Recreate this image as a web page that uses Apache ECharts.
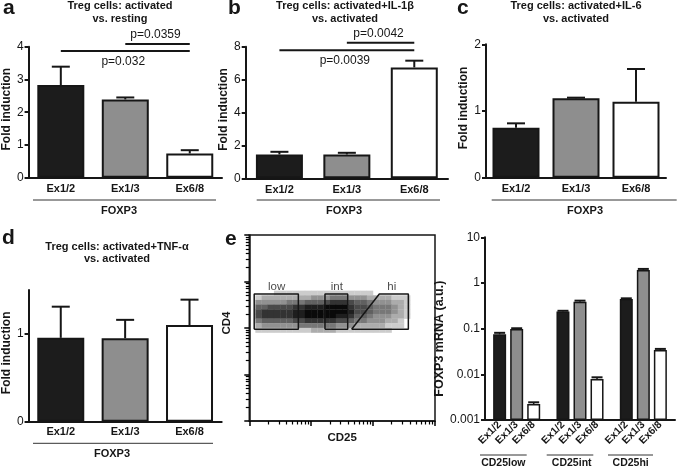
<!DOCTYPE html>
<html><head><meta charset="utf-8">
<script src="https://cdn.jsdelivr.net/npm/echarts@6/dist/echarts.min.js"></script>
<style>html,body{margin:0;padding:0;background:#fff}#c{width:685px;height:467px}</style>
</head><body><div id="c"></div>
<script>
// ---------- data ----------
const categories = ['Ex1/2', 'Ex1/3', 'Ex6/8'];
// panel a: activated vs resting
const aMean = [2.83, 2.39, 0.74];
const aErr  = [0.56, 0.06, 0.10];
const aSig  = [[1, 2, 4.08, 'p=0.0359', 'above'], [0, 2, 3.87, 'p=0.032', 'below']];
// panel b: activated+IL-1β vs activated
const bMean = [1.45, 1.45, 6.74];
const bErr  = [0.16, 0.10, 0.41];
const bSig  = [[1, 2, 8.24, 'p=0.0042', 'above'], [0, 2, 7.79, 'p=0.0039', 'below']];
// panel c: activated+IL-6 vs activated
const cMean = [0.75, 1.19, 1.14];
const cErr  = [0.065, 0.01, 0.49];
// panel d: activated+TNF-α vs activated
const dMean = [0.955, 0.95, 1.10];
const dErr  = [0.355, 0.21, 0.29];
// panel e: flow gates (CD25, CD4 in log units of the cytometer scale)
const gateLow = [[1.2, 94], [6.2, 94], [6.2, 537], [1.2, 537], [1.2, 94]];
const gateInt = [[16.7, 94], [38.9, 94], [38.9, 537], [16.7, 537], [16.7, 94]];
const gateHi  = [[45, 94], [126, 537], [371, 537], [371, 94], [45, 94]];
const gateLabels = [['low', 2.77, 772], ['int', 25.9, 772], ['hi', 200, 772]];
// event density: rows = CD4 decades 2.8 -> 1.9 (step 0.1),
// columns = CD25 decades 0.0 -> 2.8 (step 0.1), level 0..9
const densityRows = [
  '0000111111111111111100000000',
  '0122222222333444333222211100',
  '0333334445556777655433322100',
  '0556666778889999766544432100',
  '0677777889999999866544432100',
  '0677777889999988755433322100',
  '0455555667777766544333221000',
  '0233333344444433322222111000',
  '0111111111222211111111100000'
];
// panel e right: FOXP3 mRNA (a.u.) by CD25 fraction
const groups = ['CD25low', 'CD25int', 'CD25hi'];
const mEx12 = [0.075, 0.236, 0.446];
const mEx13 = [0.098, 0.39, 1.93];
const mEx68 = [0.00224, 0.0079, 0.034];
const eEx12 = [0.006, 0.01, 0.015];
const eEx13 = [0.004, 0.02, 0.1];
const eEx68 = [0.0002, 0.0007, 0.002];
const logTickLabels = ['0.001', '0.01', '0.1', '1', '10'];

// ---------- style ----------
const FONT = "'Liberation Sans', Arial, Helvetica, sans-serif";
const INK = '#161616';
const barColors = ['#1c1c1c', '#8e8e8e', '#ffffff'];

const chart = echarts.init(document.getElementById('c'), null, {renderer: 'canvas', width: 685, height: 467});

const grids = [
  {left: 21, top: 46.7, width: 201, height: 131},
  {left: 245.7, top: 46.7, width: 202.3, height: 131.6},
  {left: 486, top: 44.3, width: 180, height: 133.4},
  {left: 22.7, top: 290, width: 199, height: 131.7},
  {left: 249.3, top: 235, width: 185.7, height: 186, show: true, borderColor: INK, borderWidth: 1.5},
  {left: 485, top: 237.3, width: 190, height: 182.7}
];

const xAxes = [], yAxes = [], series = [];

function errRender(capHalf, width) {
  return (params, api) => {
    const i = api.value(0), m = api.value(1), e = api.value(2);
    const a = api.coord([i, m]), b = api.coord([i, m + e]);
    const x = a[0];
    return {type: 'group', children: [
      {type: 'line', shape: {x1: x, y1: a[1], x2: x, y2: b[1]}, style: {stroke: INK, lineWidth: width}},
      {type: 'line', shape: {x1: x - capHalf, y1: b[1], x2: x + capHalf, y2: b[1]}, style: {stroke: INK, lineWidth: width}}
    ]};
  };
}
function sigRender(rows) {
  return (params, api) => {
    const r = rows[params.dataIndex];
    const p1 = api.coord([r[0], r[2]]), p2 = api.coord([r[1], r[2]]);
    const ty = r[4] === 'above' ? p1[1] - 9 : p1[1] + 10.5;
    return {type: 'group', children: [
      {type: 'line', shape: {x1: p1[0], y1: p1[1], x2: p2[0], y2: p2[1]}, style: {stroke: INK, lineWidth: 2}},
      {type: 'text', x: (p1[0] + p2[0]) / 2 - 2, y: ty,
       style: {text: r[3], fill: INK, font: '12px ' + FONT, align: 'center', verticalAlign: 'middle'}}
    ]};
  };
}

function addBarPanel(gi, mean, err, ymax, interval, nameGap, labelMargin, customTicks, sig) {
  xAxes.push({gridIndex: gi, type: 'category', data: categories,
    axisLine: {lineStyle: {color: INK, width: 2}}, axisTick: {show: false},
    axisLabel: {fontFamily: FONT, fontWeight: 'bold', fontSize: 11, color: INK, margin: labelMargin}});
  const ya = {gridIndex: gi, type: 'value', min: 0, max: ymax, interval: interval,
    name: 'Fold induction', nameLocation: 'middle', nameGap: nameGap,
    nameTextStyle: {fontFamily: FONT, fontWeight: 'bold', fontSize: 12, color: INK, padding: [0, 0, 0, 6]},
    axisLine: {show: true, lineStyle: {color: INK, width: 2}},
    axisTick: {show: true, length: 4, lineStyle: {color: INK, width: 2}},
    splitLine: {show: false},
    axisLabel: {fontFamily: FONT, fontSize: 12, color: INK, margin: 5}};
  if (customTicks) { ya.axisTick.customValues = customTicks; ya.axisLabel.customValues = customTicks; }
  yAxes.push(ya);
  const ai = xAxes.length - 1;
  series.push({type: 'bar', xAxisIndex: ai, yAxisIndex: ai, barWidth: 47, silent: true,
    data: mean.map((v, i) => ({value: v, itemStyle: {color: barColors[i]}})),
    itemStyle: {borderColor: INK, borderWidth: 2}});
  series.push({type: 'custom', xAxisIndex: ai, yAxisIndex: ai, silent: true, z: 4,
    data: mean.map((v, i) => [i, v, err[i]]), encode: {x: 0, y: 1},
    renderItem: errRender(9, 2)});
  if (sig) {
    series.push({type: 'custom', xAxisIndex: ai, yAxisIndex: ai, silent: true, clip: false, z: 4,
      data: sig.map(r => [r[0], r[2]]), encode: {x: 0, y: 1},
      renderItem: sigRender(sig)});
  }
}

addBarPanel(0, aMean, aErr, 4, 1, 11, 6, null, aSig);
addBarPanel(1, bMean, bErr, 8, 2, 11, 6, null, bSig);
addBarPanel(2, cMean, cErr, 2, 1, 16, 6, null, null);
addBarPanel(3, dMean, dErr, 1.5, 0.5, 12.5, 5, [0, 1], null);

// ---------- panel e: dot plot ----------
const flowTick = {show: true, length: 5, lineStyle: {color: '#000', width: 1.5}};
const flowMinor = {show: true, splitNumber: 9, length: 3.5, lineStyle: {color: '#000', width: 1.2}};
xAxes.push({gridIndex: 4, type: 'log', logBase: 10, min: 1, max: 1000,
  name: 'CD25', nameLocation: 'middle', nameGap: 10.5,
  nameTextStyle: {fontFamily: FONT, fontWeight: 'bold', fontSize: 11.5, color: INK},
  axisLine: {lineStyle: {color: INK, width: 1.5}},
  axisTick: flowTick, minorTick: flowMinor,
  axisLabel: {show: false}, splitLine: {show: false}, minorSplitLine: {show: false}});
yAxes.push({gridIndex: 4, type: 'log', logBase: 10, min: 1, max: 10000,
  name: 'CD4', nameLocation: 'middle', nameGap: 16,
  nameTextStyle: {fontFamily: FONT, fontWeight: 'bold', fontSize: 11.5, color: INK, padding: [0, 0, 0, 10]},
  axisLine: {lineStyle: {color: INK, width: 1.5}},
  axisTick: flowTick, minorTick: flowMinor,
  axisLabel: {show: false}, splitLine: {show: false}, minorSplitLine: {show: false}});

const cells = [];
densityRows.forEach((row, r) => {
  const yDec = 2.8 - 0.1 * r - 0.05;
  for (let c = 0; c < row.length; c++) {
    const L = +row[c];
    if (!L) continue;
    const g = Math.round(250 - 240 * Math.pow(L / 9, 0.75));
    cells.push({value: [Math.pow(10, 0.1 * c + 0.05), Math.pow(10, yDec)],
      itemStyle: {color: 'rgb(' + g + ',' + g + ',' + g + ')', opacity: 1}});
  }
});
const cellW = grids[4].width / 3 * 0.1 + 0.3, cellH = grids[4].height / 4 * 0.1 + 0.3;
series.push({type: 'scatter', xAxisIndex: 4, yAxisIndex: 4, symbol: 'rect', symbolSize: [cellW, cellH],
  data: cells, silent: true, z: 1, itemStyle: {opacity: 1}});
[gateLow, gateInt, gateHi].forEach(g => series.push({type: 'line', xAxisIndex: 4, yAxisIndex: 4,
  data: g, symbol: 'none', silent: true, z: 5, lineStyle: {color: INK, width: 1.5}}));
series.push({type: 'scatter', xAxisIndex: 4, yAxisIndex: 4, symbolSize: 0, silent: true, z: 6,
  data: gateLabels.map(g => ({name: g[0], value: [g[1], g[2]]})),
  label: {show: true, position: 'inside', formatter: '{b}', fontFamily: FONT, fontSize: 11.5, color: INK}});

// ---------- panel e: log bar chart ----------
xAxes.push({gridIndex: 5, type: 'category', data: groups,
  axisLine: {lineStyle: {color: INK, width: 2}}, axisTick: {show: false}, axisLabel: {show: false}});
yAxes.push({gridIndex: 5, type: 'value', min: 0, max: 4, interval: 1,
  name: 'FOXP3 mRNA (a.u.)', nameLocation: 'middle', nameGap: 36,
  nameTextStyle: {fontFamily: FONT, fontWeight: 'bold', fontSize: 12.5, color: INK, padding: [0, 20, 0, 0]},
  axisLine: {show: true, lineStyle: {color: INK, width: 2}},
  axisTick: {show: true, length: 4, lineStyle: {color: INK, width: 2}},
  splitLine: {show: false},
  axisLabel: {fontFamily: FONT, fontSize: 12, color: INK, margin: 5, formatter: v => logTickLabels[Math.round(v)]}});
const logMeans = [mEx12, mEx13, mEx68], logErrs = [eEx12, eEx13, eEx68];
const BW = 13, GAP = 0.31;
logMeans.forEach((vals, s) => {
  series.push({type: 'bar', name: categories[s], xAxisIndex: 5, yAxisIndex: 5, barWidth: BW, barGap: (GAP * 100) + '%',
    silent: true, data: vals.map(v => Math.log10(v) + 3),
    itemStyle: {color: barColors[s], borderColor: INK, borderWidth: 1.5},
    label: {show: true, position: 'bottom', distance: 3, rotate: 45, align: 'right', verticalAlign: 'middle',
      formatter: categories[s], fontFamily: FONT, fontWeight: 'bold', fontSize: 10.5, color: INK}});
});
const logErrData = [];
logMeans.forEach((vals, s) => vals.forEach((v, g) =>
  logErrData.push([g, Math.log10(v) + 3, Math.log10(v + logErrs[s][g]) + 3, s])));
series.push({type: 'custom', xAxisIndex: 5, yAxisIndex: 5, silent: true, z: 4,
  data: logErrData, encode: {x: 0, y: 1},
  renderItem: (params, api) => {
    const g = api.value(0), y0 = api.value(1), y1 = api.value(2), s = api.value(3);
    const a = api.coord([g, y0]), b = api.coord([g, y1]);
    const x = a[0] + (s - 1) * BW * (1 + GAP);
    return {type: 'group', children: [
      {type: 'line', shape: {x1: x, y1: a[1], x2: x, y2: b[1]}, style: {stroke: INK, lineWidth: 1.5}},
      {type: 'line', shape: {x1: x - 5.5, y1: b[1], x2: x + 5.5, y2: b[1]}, style: {stroke: INK, lineWidth: 2}}
    ]};
  }});

// ---------- annotations ----------
const graphics = [];
function txt(x, y, text, font, align, lh) {
  graphics.push({type: 'text', x: x, y: y, silent: true,
    style: {text: text, font: font, fill: INK, align: align || 'center', verticalAlign: 'middle', lineHeight: lh || 13}});
}
function hline(x1, x2, y) {
  graphics.push({type: 'line', silent: true, shape: {x1: x1, y1: y, x2: x2, y2: y}, style: {stroke: '#333', lineWidth: 1}});
}
const LET = 'bold 21px ' + FONT, TIT = 'bold 11px ' + FONT, LAB = 'bold 11px ' + FONT;
txt(3, 8, 'a', LET, 'left');
txt(228, 8, 'b', LET, 'left');
txt(457, 8, 'c', LET, 'left');
txt(2, 238, 'd', LET, 'left');
txt(225, 239, 'e', LET, 'left');
txt(120, 12.5, 'Treg cells: activated\nvs. resting', TIT, 'center', 13);
txt(345, 12.5, 'Treg cells: activated+IL-1β\nvs. activated', TIT, 'center', 13);
txt(576, 12.5, 'Treg cells: activated+IL-6\nvs. activated', TIT, 'center', 13);
txt(117, 253, 'Treg cells: activated+TNF-α\nvs. activated', TIT, 'center', 12);
hline(33, 216, 200); txt(119, 210.5, 'FOXP3', LAB);
hline(256.7, 440, 200); txt(344, 210.5, 'FOXP3', LAB);
hline(491.7, 676.7, 200); txt(585, 210.5, 'FOXP3', LAB);
hline(33, 213, 443.3); txt(112, 454.3, 'FOXP3', LAB);
hline(480, 526.7, 455); txt(503.3, 463.3, groups[0], 'bold 10.5px ' + FONT);
hline(546.7, 593.3, 455); txt(571.7, 463.3, groups[1], 'bold 10.5px ' + FONT);
hline(608, 653, 455); txt(630.7, 463.3, groups[2], 'bold 10.5px ' + FONT);

chart.setOption({
  animation: false,
  backgroundColor: '#fff',
  textStyle: {fontFamily: FONT},
  grid: grids,
  xAxis: xAxes,
  yAxis: yAxes,
  series: series,
  graphic: {elements: graphics}
});
</script></body></html>
